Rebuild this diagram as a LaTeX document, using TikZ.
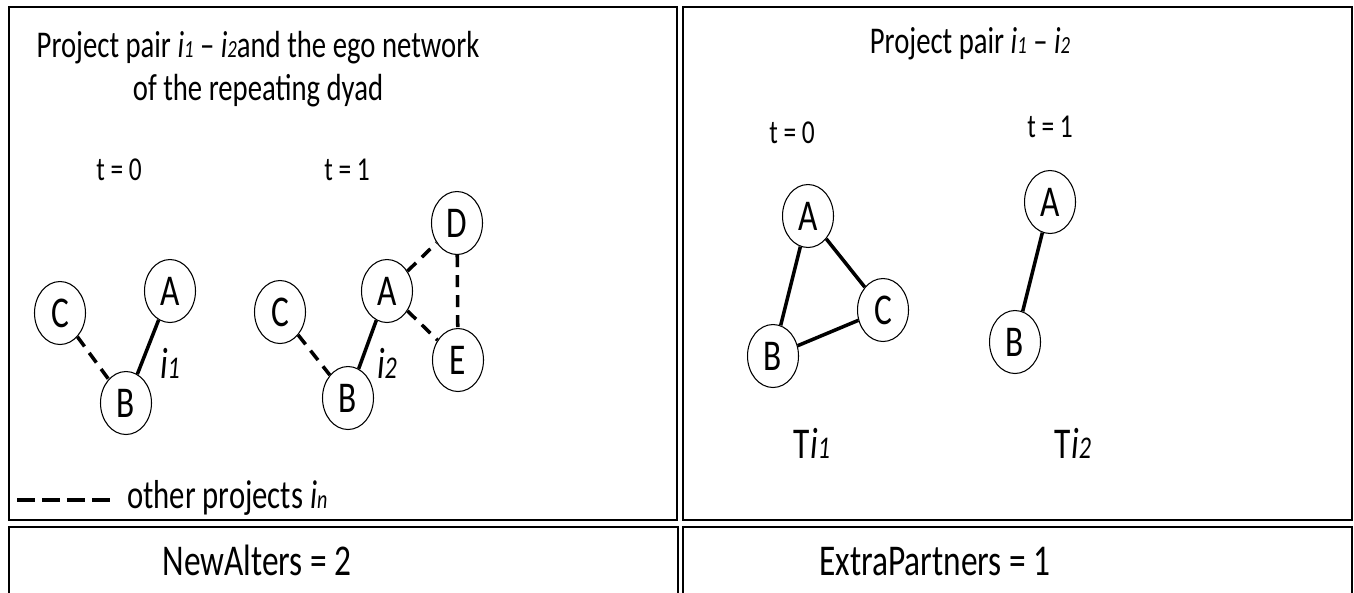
\documentclass[tikz,border=0pt]{standalone}
\usepackage{fontspec}
\setmainfont{Carlito}[FakeStretch=0.76]
\usetikzlibrary{shapes.geometric,positioning}

% project index: italic i with a smaller italic number on the baseline
\newcommand{\idx}[2][13]{\textit{i}{\fontsize{#1}{#1}\selectfont\textit{#2}}}

\tikzset{
  panel/.style={draw,line width=1pt},
  actor/.style={draw,ellipse,line width=0.6pt,minimum width=1.02cm,minimum height=1.26cm,inner sep=0pt,font=\fontsize{25}{29}\selectfont},
  tie/.style={line width=2pt},
  othertie/.style={line width=2pt,dash pattern=on 0.24cm off 0.16cm},
  heading/.style={anchor=base,font=\fontsize{21.5}{25}\selectfont},
  stamp/.style={anchor=base,font=\fontsize{19}{22}\selectfont},
  tielabel/.style={font=\fontsize{25}{29}\selectfont},
  measure/.style={anchor=base,font=\fontsize{25}{29}\selectfont},
}

\begin{document}
\begin{tikzpicture}[x=0.02cm,y=-0.02cm]
    \useasboundingbox (0,0) rectangle (1354,592);
    \clip (0,0) rectangle (1354,592);

    % panels
    \draw[panel] (9,7) rectangle (677,520);
    \draw[panel] (683,7) rectangle (1352,520);
    \draw[panel] (9,527) rectangle (678,620);
    \draw[panel] (683,527) rectangle (1352,620);

    % left panel: ego network of the repeating dyad
    \node[heading] (ttlA1) at (258,57) {Project pair \idx[14]{1} – \idx[14]{2}and the ego network};
    \node[heading] (ttlA2) at (258,100) {of the repeating dyad};
    \node[stamp] (tA0) at (119,180) {t = 0};
    \node[stamp] (tA1) at (347,180) {t = 1};

    \node[actor] (a0) at (170,291) {A};
    \node[actor] (b0) at (126,403) {B};
    \node[actor] (c0) at (60,313) {C};
    \draw[othertie] (c0) -- (b0);
    \draw[tie] (b0) -- (a0);
    \node[tielabel] (i1) at (170,363) {\idx[18]{1}};

    \node[actor] (a1) at (387,291) {A};
    \node[actor] (b1) at (348,398) {B};
    \node[actor] (c1) at (280,312) {C};
    \node[actor] (d1) at (457,223) {D};
    \node[actor] (e1) at (458,360) {E};
    \draw[othertie] (c1) -- (b1);
    \draw[tie] (b1) -- (a1);
    \draw[othertie] (a1) -- (d1);
    \draw[othertie] (a1) -- (e1);
    \draw[othertie] (d1) -- (e1);
    \node[tielabel] (i2) at (387,363) {\idx[18]{2}};

    % legend
    \coordinate (lgL) at (17,500);
    \coordinate (lgR) at (110,500);
    \draw[line width=2.2pt,dash pattern=on 0.36cm off 0.14cm] (lgL) -- (lgR);
    \node[anchor=base west,font=\fontsize{23}{27}\selectfont] (lgtxt) at (121,508) {other projects \idx[15]{n}};

    % right panel: the two projects
    \node[heading] (ttlB) at (970,53) {Project pair \idx[14]{1} – \idx[14]{2}};
    \node[stamp] (tB0) at (792,143) {t = 0};
    \node[stamp] (tB1) at (1050,137) {t = 1};

    \node[actor] (pa0) at (808,216) {A};
    \node[actor] (pb0) at (773,356) {B};
    \node[actor] (pc0) at (883,310) {C};
    \draw[tie] (pa0) -- (pb0);
    \draw[tie] (pa0) -- (pc0);
    \draw[tie] (pb0) -- (pc0);

    \node[actor] (pa1) at (1050,202) {A};
    \node[actor] (pb1) at (1015,342) {B};
    \draw[tie] (pa1) -- (pb1);

    \node[measure] (ti1) at (812,458) {T\idx[18]{1}};
    \node[measure] (ti2) at (1073,458) {T\idx[18]{2}};

    % measures
    \node[measure] (newalt) at (257,575) {NewAlters = 2};
    \node[measure] (extra) at (935,575) {ExtraPartners = 1};
  \end{tikzpicture}
\end{document}
